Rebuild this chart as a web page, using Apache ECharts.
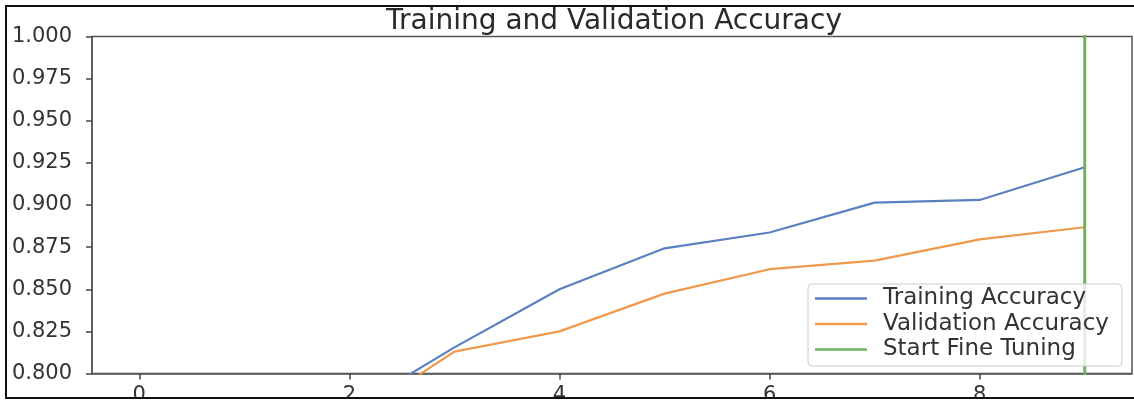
<!DOCTYPE html>
<html>
<head>
<meta charset="utf-8">
<script src="https://cdn.jsdelivr.net/npm/echarts@6/dist/echarts.min.js"></script>
<style>
  html, body { margin: 0; padding: 0; background: #fff; width: 1134px; height: 401px; overflow: hidden; }
  #frame { position: absolute; left: 5px; top: 5px; width: 1140px; height: 390px;
           border: 2px solid #111; border-right: none; overflow: hidden; background: #fff; }
  #chart { position: absolute; left: -7px; top: -7px; width: 1134px; height: 401px; }
</style>
</head>
<body>
<div id="frame"><div id="chart"></div></div>
<script>
const epochs = [0, 1, 2, 3, 4, 5, 6, 7, 8, 9];
const trainAcc = [0.610, 0.720, 0.778, 0.8155, 0.8500, 0.8743, 0.8837, 0.9014, 0.9030, 0.9224];
const valAcc = [0.670, 0.740, 0.772, 0.8130, 0.8250, 0.8474, 0.8619, 0.8670, 0.8796, 0.8868];
const fineTuneX = [9, 9];
const fineTuneY = [0, 1.2];
const xTicks = [0, 2, 4, 6, 8];
const seriesNames = ['Training Accuracy', 'Validation Accuracy', 'Start Fine Tuning'];
const titleText = 'Training and Validation Accuracy';

const font = 'DejaVu Sans';
const chart = echarts.init(document.getElementById('chart'), null, { renderer: 'canvas' });
chart.setOption({
  animation: false,
  backgroundColor: '#fff',
  title: {
    text: titleText, left: 609, top: 2.5, textAlign: 'center',
    textStyle: { fontFamily: font, fontSize: 28, fontWeight: 'normal', color: '#2a2a2a' }
  },
  grid: { left: 92, top: 36.5, right: 2, bottom: 27.5, outerBoundsMode: 'none', containLabel: false,
          show: true, borderColor: '#555', borderWidth: 1.5, backgroundColor: 'transparent' },
  xAxis: {
    type: 'value', min: -0.45, max: 9.45,
    axisLine: { show: true, onZero: false, lineStyle: { color: '#555', width: 1.5 } },
    axisTick: { show: true, customValues: xTicks, length: 6, lineStyle: { color: '#444', width: 1.5 } },
    axisLabel: { customValues: xTicks, margin: 12, fontFamily: font, fontSize: 21, color: '#333' },
    splitLine: { show: false }
  },
  yAxis: {
    type: 'value', min: 0.8, max: 1.0, interval: 0.025,
    axisLine: { show: true, onZero: false, lineStyle: { color: '#555', width: 1.5 } },
    axisTick: { show: true, length: 6, lineStyle: { color: '#444', width: 1.5 } },
    axisLabel: { margin: 20, fontFamily: font, fontSize: 21, color: '#333', formatter: v => v.toFixed(3) },
    splitLine: { show: false }
  },
  legend: {
    orient: 'vertical', left: 808, top: 284,
    data: seriesNames,
    icon: 'rect',
    itemWidth: 52, itemHeight: 2.5, itemGap: 2.5,
    padding: [3, 13, 5, 7],
    backgroundColor: 'rgba(255,255,255,0.8)', borderColor: '#ccc', borderWidth: 1, borderRadius: 4,
    textStyle: { fontFamily: font, fontSize: 23, lineHeight: 23, color: '#333', padding: [0, 0, 0, 11] }
  },
  series: [
    { name: seriesNames[0], type: 'line', symbol: 'none', clip: true,
      data: epochs.map((e, i) => [e, trainAcc[i]]),
      lineStyle: { color: '#5a80c0', width: 2.2 }, itemStyle: { color: '#5a80c0' } },
    { name: seriesNames[1], type: 'line', symbol: 'none', clip: true,
      data: epochs.map((e, i) => [e, valAcc[i]]),
      lineStyle: { color: '#f0994a', width: 2.2 }, itemStyle: { color: '#f0994a' } },
    { name: seriesNames[2], type: 'line', symbol: 'none', clip: true,
      data: fineTuneX.map((x, i) => [x, fineTuneY[i]]),
      lineStyle: { color: '#6db35c', width: 3 }, itemStyle: { color: '#6db35c' } }
  ]
});
</script>
</body>
</html>
